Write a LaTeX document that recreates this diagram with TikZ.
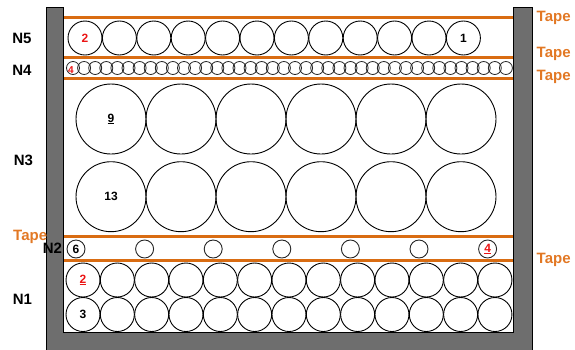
\documentclass[tikz,border=0pt]{standalone}
\usepackage{fontspec}
\setmainfont{Liberation Sans}
\definecolor{wallgray}{RGB}{110,110,110}
\definecolor{tapeorange}{RGB}{217,108,18}
\definecolor{tapetext}{RGB}{226,120,36}
\definecolor{numred}{RGB}{235,20,20}
\begin{document}
\begin{tikzpicture}[x=1pt,y=-1pt,
  wall/.style={fill=wallgray,draw=black,line width=1pt},
  tape/.style={draw=tapeorange,line width=3.3pt},
  ball/.style={circle,draw=black,line width=0.9pt,inner sep=0pt,minimum size=#1},
  lbl/.style={font=\fontsize{15}{17}\selectfont\bfseries},
  tapelbl/.style={font=\fontsize{15}{17}\selectfont\bfseries,text=tapetext,anchor=west,inner sep=0pt},
  num/.style={font=\fontsize{12}{13}\selectfont\bfseries},
  rnum/.style={num,text=numred}]
\useasboundingbox (0,0) rectangle (575,349);
\clip (0,0) rectangle (575,349);
% tapes
\foreach \y/\n in {17.3/t1,57.7/t2,78.3/t3,236.7/t4,260.7/t5}{
  \coordinate (\n-l) at (63,\y);
  \coordinate (\n-r) at (513,\y);
  \draw[tape] (\n-l) -- (\n-r);
}
% N5
\foreach \i in {1,...,12}{
  \node[ball=34pt] (a\i) at ({85+34.4*(\i-1)},38) {};
}
% N4
\foreach \i in {1,...,40}{
  \node[ball=13pt,line width=0.8pt,draw=black!85] (b\i) at ({73+11.1*(\i-1)},68) {};
}
% N3
\foreach \i in {1,...,6}{
  \node[ball=70pt] (c\i) at ({111+70*(\i-1)},119) {};
  \node[ball=70pt] (d\i) at ({111+70*(\i-1)},196.7) {};
}
% N2
\foreach \i in {1,...,7}{
  \node[ball=18pt,draw=black!85] (e\i) at ({76+68.6*(\i-1)},249) {};
}
% N1
\foreach \i in {1,...,13}{
  \node[ball=34pt] (f\i) at ({83+34.33*(\i-1)},280) {};
  \node[ball=34pt] (g\i) at ({83+34.33*(\i-1)},314.5) {};
}
% numbers
\node[rnum] (na1) at (a1) {2};
\node[num] (na12) at (a12) {1};
\node[rnum,font=\fontsize{10}{11}\selectfont\bfseries] (nb1) at (71,70) {4};
\node[num] (nc1) at (c1) {\underline{9}};
\node[num] (nd1) at (d1) {13};
\node[num] (ne1) at (e1) {6};
\node[rnum] (ne7) at (e7) {\underline{4}};
\node[rnum] (nf1) at (f1) {\underline{2}};
\node[num] (ng1) at (g1) {3};
% walls
\draw[wall] (46,7) -- (63,7) -- (63,332) -- (513,332) -- (513,7) -- (532,7) -- (532,355) -- (46,355) -- cycle;
% level labels
\node[lbl] (N5) at (22,38) {N5};
\node[lbl] (N4) at (22,70) {N4};
\node[lbl] (N3) at (23.5,160) {N3};
\node[lbl] (N2) at (52.5,248) {N2};
\node[lbl] (N1) at (22.5,299) {N1};
% tape labels
\node[tapelbl] (L1) at (536.5,17.5) {Tape};
\node[tapelbl] (L2) at (536.5,53.5) {Tape};
\node[tapelbl] (L3) at (536.5,77) {Tape};
\node[tapelbl] (L4) at (536.5,260) {Tape};
\node[tapelbl] (L5) at (13,237) {Tape};
\end{tikzpicture}
\end{document}
